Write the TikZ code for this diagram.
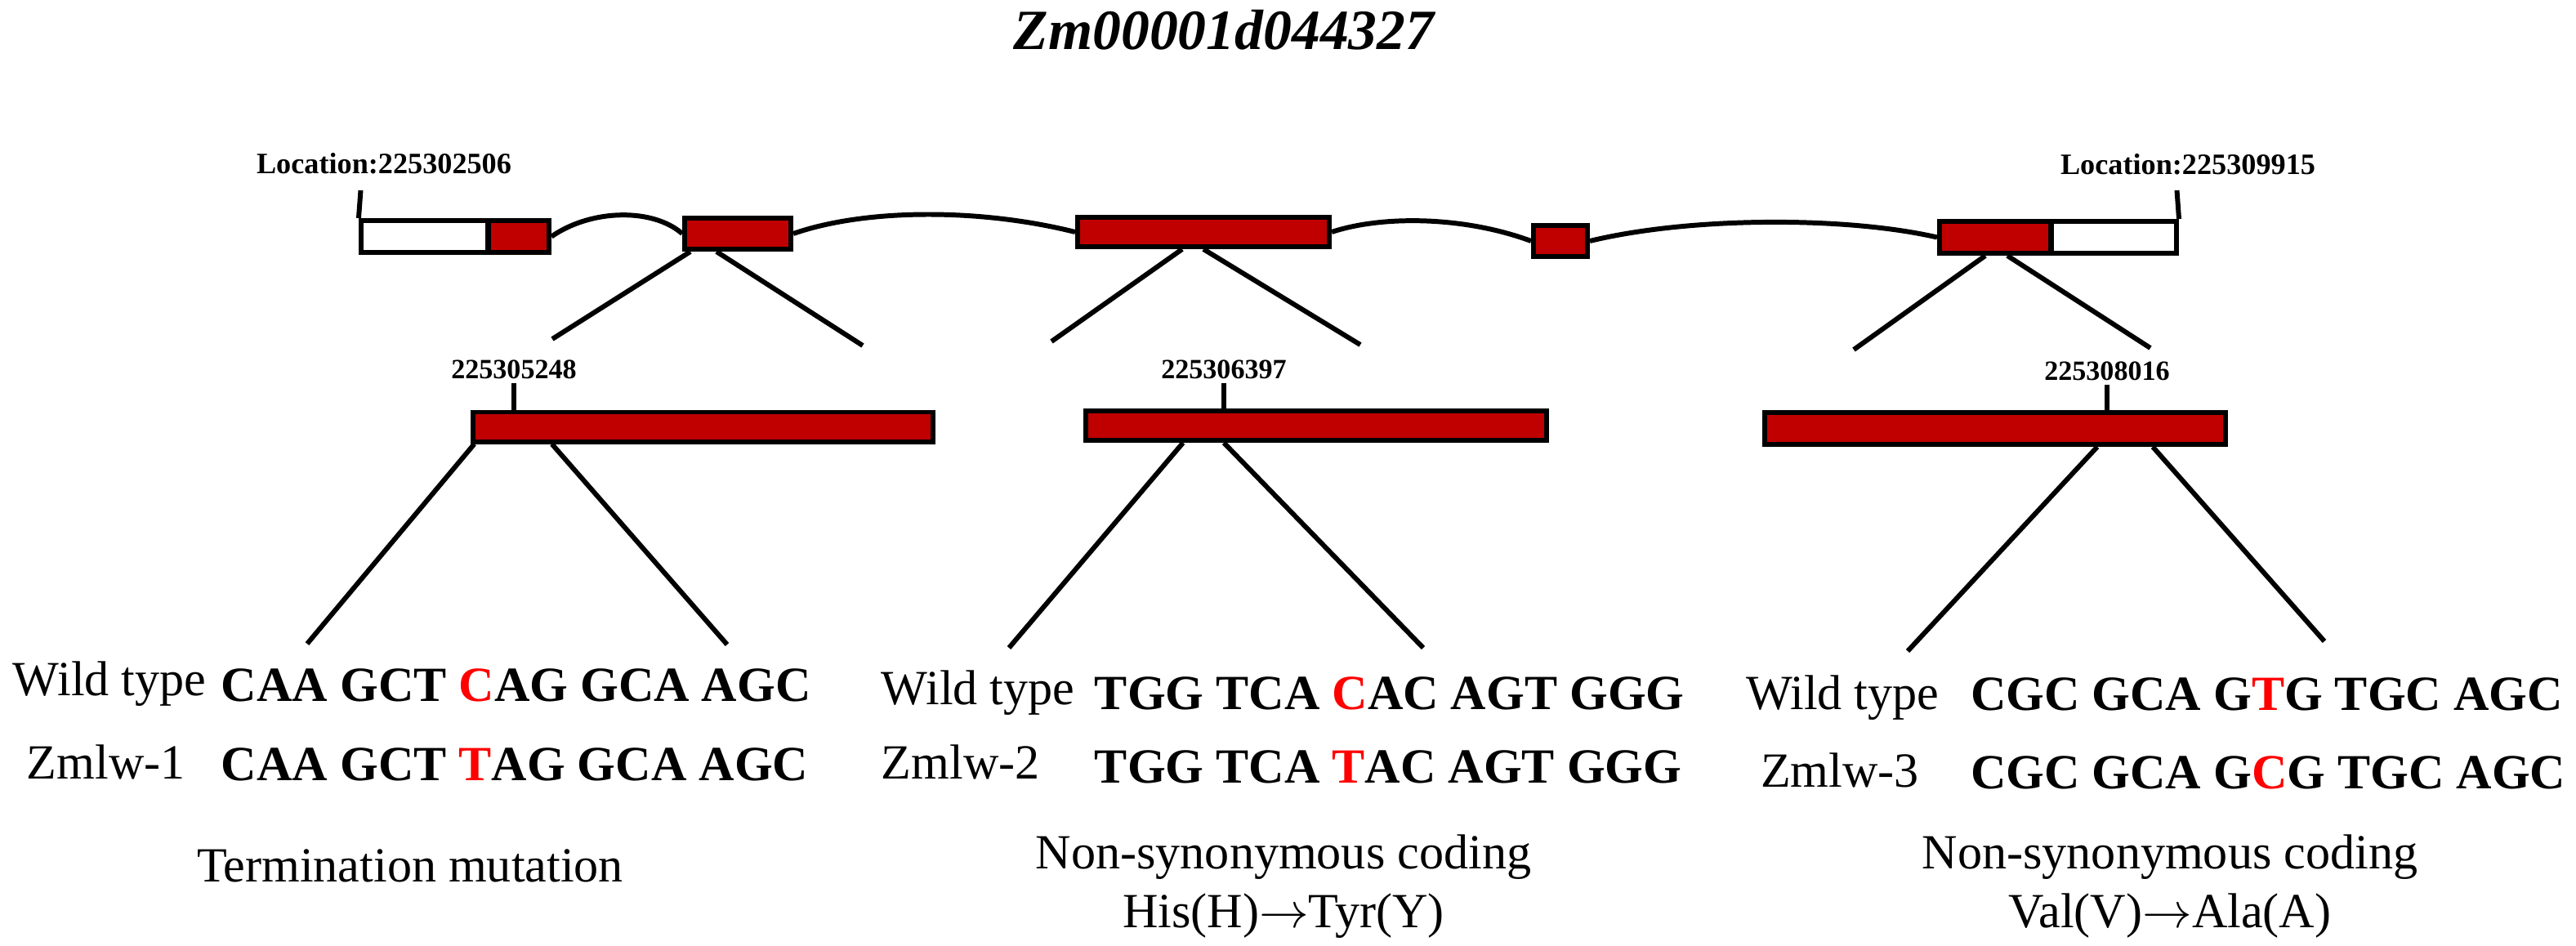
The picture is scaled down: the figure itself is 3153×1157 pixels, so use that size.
\documentclass[tikz,border=0pt]{standalone}
\usepackage{fontspec}
\setmainfont{Liberation Serif}
\usetikzlibrary{calc}
\definecolor{exonred}{HTML}{C00000}
\definecolor{snpred}{HTML}{FF0000}
\newcommand{\snp}[1]{\textcolor{snpred}{#1}}

\begin{document}
\begin{tikzpicture}[x=0.01cm,y=-0.01cm,line width=1.7pt,
  exon/.style={draw,fill=exonred,inner sep=0pt},
  utr/.style={draw,fill=white,inner sep=0pt},
  txt/.style={inner sep=0pt,font=\fontsize{17.1}{20}\selectfont},
  seq/.style={inner sep=0pt,font=\fontsize{17.1}{20}\selectfont\bfseries},
  posnum/.style={inner sep=0pt,outer sep=1.5pt,font=\fontsize{9.7}{11}\selectfont\bfseries},
  loc/.style={inner sep=0pt,font=\fontsize{10.3}{12}\selectfont\bfseries}]
  \useasboundingbox (0,0) rectangle (3153,1157);

  \node [inner sep=0pt, anchor=base, font=\fontsize{19.8}{22}\selectfont\bfseries\itshape] (title) at (1498,60) {Zm00001d044327};

  % gene model
  \node [utr, minimum width=1.55cm, minimum height=0.39cm] (utrL) at (519.5,289.5) {};
  \node [exon, minimum width=0.74cm, minimum height=0.39cm] (exA) at (635,289.5) {};
  \node [exon, minimum width=1.30cm, minimum height=0.38cm] (exB) at (903,286) {};
  \node [exon, minimum width=3.08cm, minimum height=0.36cm] (exC) at (1473,284) {};
  \node [exon, minimum width=0.66cm, minimum height=0.38cm] (exD) at (1910,295) {};
  \node [utr, minimum width=1.53cm, minimum height=0.39cm] (utrR) at (2587.5,290.5) {};
  \node [exon, minimum width=1.36cm, minimum height=0.39cm] (exE) at (2442,290.5) {};

  \draw (exA.east) .. controls (725,255) and (800,255) .. (exB.west);
  \draw (exB.east) .. controls (1060,255) and (1200,255) .. (exC.west);
  \draw (exC.east) .. controls (1690,264) and (1790,264) .. (exD.west);
  \draw (exD.east) .. controls (2070,265) and (2260,265) .. (exE.west);

  \node [loc, anchor=base] (locL) at (470,212) {Location:225302506};
  \node [loc, anchor=base] (locR) at (2678,213) {Location:225309915};
  \coordinate (tickL) at (441.5,233);
  \coordinate (tickR) at (2664.5,233);
  \draw (utrL.north west) -- (tickL);
  \draw (utrR.north east) -- (tickR);

  % zoom from the gene model
  \coordinate (zbL) at (676,415);
  \coordinate (zbR) at (1056,423);
  \coordinate (zcL) at (1287,418);
  \coordinate (zcR) at (1665,422);
  \coordinate (zeL) at (2269,428);
  \coordinate (zeR) at (2632,426);
  \draw ($(exB.south)+(-58,0)$) -- (zbL);
  \draw ($(exB.south)+(-26,0)$) -- (zbR);
  \draw ($(exC.south)+(-26,0)$) -- (zcL);
  \draw (exC.south) -- (zcR);
  \draw ($(exE.south)+(-12,0)$) -- (zeL);
  \draw ($(exE.south)+(15,0)$) -- (zeR);

  % enlarged exons
  \node [exon, minimum width=5.63cm, minimum height=0.36cm] (bigA) at (860.5,522.5) {};
  \node [exon, minimum width=5.64cm, minimum height=0.36cm] (bigB) at (1611,521) {};
  \node [exon, minimum width=5.64cm, minimum height=0.39cm] (bigC) at (2442,524.5) {};

  \node [posnum, anchor=base] (numA) at (629,463) {225305248};
  \node [posnum, anchor=base] (numB) at (1498,463) {225306397};
  \node [posnum, anchor=base] (numC) at (2579,465) {225308016};
  \draw (numA.south) -- (numA.south |- bigA.north);
  \draw (numB.south) -- (numB.south |- bigB.north);
  \draw (numC.south) -- (numC.south |- bigC.north);

  \coordinate (sA1) at (376,788);
  \coordinate (sA2) at (890,789);
  \coordinate (sB1) at (1235,793);
  \coordinate (sB2) at (1742,793);
  \coordinate (sC1) at (2335,797);
  \coordinate (sC2) at (2845,785);
  \draw ($(bigA.south)+(-280,0)$) -- (sA1);
  \draw ($(bigA.south)+(-185,0)$) -- (sA2);
  \draw ($(bigB.south)+(-163,0)$) -- (sB1);
  \draw ($(bigB.south)+(-113,0)$) -- (sB2);
  \draw ($(bigC.south)+(125,0)$) -- (sC1);
  \draw ($(bigC.south)+(193,0)$) -- (sC2);

  % sequences
  \node [txt, anchor=base west] (wt1) at (13,851) {Wild type};
  \node [seq, anchor=base west] (sw1) at (268,858) {CAA GCT \snp{C}AG GCA AGC};
  \node [txt, anchor=base west] (mu1) at (30,953) {Zmlw-1};
  \node [seq, anchor=base west] (sm1) at (268,955) {CAA GCT \snp{T}AG GCA AGC};
  \node [txt, anchor=base] (ef1) at (502,1079) {Termination mutation};

  \node [txt, anchor=base west] (wt2) at (1076,862) {Wild type};
  \node [seq, anchor=base west] (sw2) at (1337,868) {TGG TCA \snp{C}AC AGT GGG};
  \node [txt, anchor=base west] (mu2) at (1076,953) {Zmlw-2};
  \node [seq, anchor=base west] (sm2) at (1337,958) {TGG TCA \snp{T}AC AGT GGG};
  \node [txt, anchor=base] (ef2) at (1571,1063) {Non-synonymous coding};
  \node [txt, anchor=base] (aa2) at (1571,1135) {His(H)$\rightarrow$Tyr(Y)};

  \node [txt, anchor=base west] (wt3) at (2134,868) {Wild type};
  \node [seq, anchor=base west] (sw3) at (2409,869) {CGC GCA G\snp{T}G TGC AGC};
  \node [txt, anchor=base west] (mu3) at (2152,963) {Zmlw-3};
  \node [seq, anchor=base west] (sm3) at (2409,965) {CGC GCA G\snp{C}G TGC AGC};
  \node [txt, anchor=base] (ef3) at (2656,1063) {Non-synonymous coding};
  \node [txt, anchor=base] (aa3) at (2656,1135) {Val(V)$\rightarrow$Ala(A)};
\end{tikzpicture}
\end{document}
